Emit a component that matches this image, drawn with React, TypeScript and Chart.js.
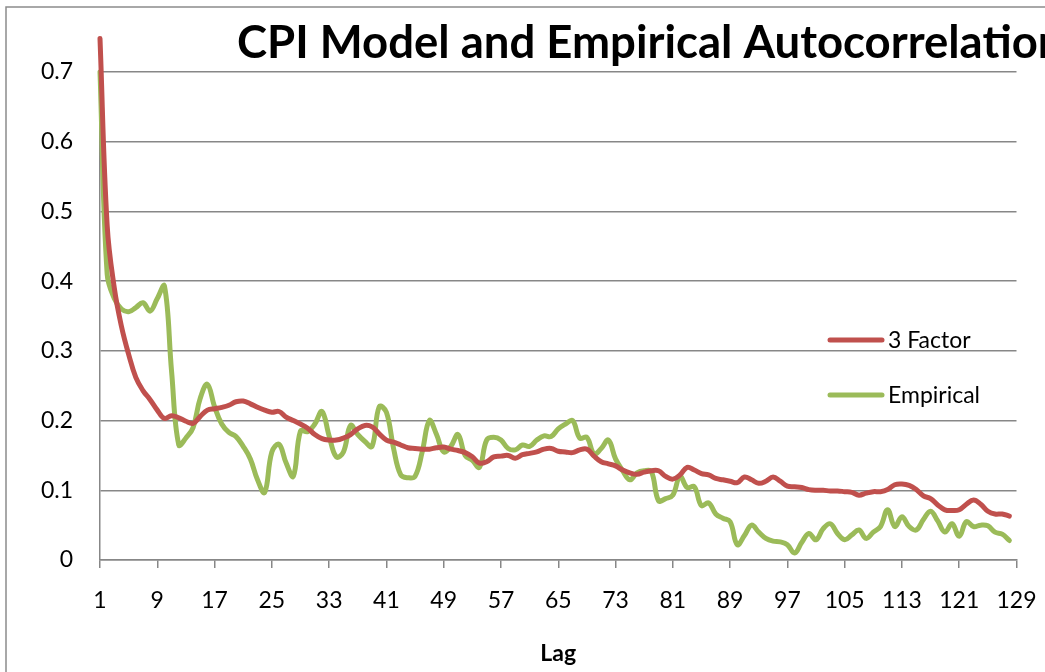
import { useEffect, useRef } from "react";
import { Chart, registerables } from "chart.js";

Chart.register(...registerables);

const TITLE = "CPI Model and Empirical Autocorrelation";
const X_TITLE = "Lag";
const SERIES_NAMES = ["3 Factor", "Empirical"];
const SERIES_COLORS = ["#C0504D", "#9BBB59"];

// lag categories 1..128
const LAGS = Array.from({ length: 128 }, (_, i) => i + 1);
const X_TICKS = [1, 9, 17, 25, 33, 41, 49, 57, 65, 73, 81, 89, 97, 105, 113, 121, 129];
const Y_TICKS = [0, 0.1, 0.2, 0.3, 0.4, 0.5, 0.6, 0.7];

const FACTOR3 = [
  0.748, 0.48, 0.39, 0.335, 0.295, 0.262, 0.243, 0.23, 0.215, 0.203,
  0.207, 0.204, 0.199, 0.196, 0.206, 0.215, 0.217, 0.219, 0.222, 0.227,
  0.228, 0.224, 0.219, 0.215, 0.212, 0.213, 0.205, 0.2, 0.195, 0.189,
  0.18, 0.174, 0.172, 0.172, 0.175, 0.18, 0.188, 0.193, 0.191, 0.181,
  0.172, 0.169, 0.165, 0.161, 0.16, 0.159, 0.159, 0.161, 0.162, 0.159,
  0.157, 0.154, 0.148, 0.139, 0.141, 0.148, 0.149, 0.15, 0.146, 0.151,
  0.153, 0.155, 0.159, 0.16, 0.156, 0.155, 0.154, 0.158, 0.159, 0.149,
  0.141, 0.138, 0.135, 0.129, 0.125, 0.123, 0.126, 0.128, 0.128, 0.12,
  0.116, 0.122, 0.133, 0.129, 0.124, 0.122, 0.117, 0.115, 0.113, 0.111,
  0.119, 0.115, 0.11, 0.113, 0.119, 0.113, 0.106, 0.105, 0.104, 0.101,
  0.1, 0.1, 0.099, 0.099, 0.098, 0.097, 0.093, 0.096, 0.098, 0.098,
  0.101, 0.108, 0.109, 0.107, 0.101, 0.092, 0.088, 0.079, 0.072, 0.071,
  0.072, 0.08, 0.086, 0.08, 0.07, 0.066, 0.066, 0.063,
];

const EMPIRICAL = [
  0.7, 0.41, 0.375, 0.36, 0.356, 0.362, 0.369, 0.357, 0.375, 0.393,
  0.27, 0.165, 0.175, 0.19, 0.232, 0.252, 0.22, 0.195, 0.183, 0.177,
  0.163, 0.145, 0.115, 0.097, 0.155, 0.166, 0.139, 0.12, 0.185, 0.184,
  0.195, 0.213, 0.178, 0.148, 0.155, 0.193, 0.18, 0.17, 0.163, 0.22,
  0.212, 0.16, 0.122, 0.118, 0.12, 0.155, 0.2, 0.18, 0.155, 0.163,
  0.18, 0.15, 0.143, 0.133, 0.172, 0.176, 0.172, 0.16, 0.158, 0.165,
  0.163, 0.172, 0.178, 0.177, 0.188, 0.195, 0.2, 0.175, 0.176, 0.152,
  0.16, 0.172, 0.145, 0.128, 0.115, 0.125, 0.128, 0.127, 0.085, 0.088,
  0.093, 0.12, 0.104, 0.105, 0.078, 0.082, 0.066, 0.06, 0.055, 0.022,
  0.035, 0.05, 0.04, 0.031, 0.027, 0.026, 0.022, 0.01, 0.025, 0.038,
  0.029, 0.045, 0.052, 0.038, 0.029, 0.036, 0.043, 0.031, 0.04, 0.048,
  0.072, 0.048, 0.062, 0.048, 0.043, 0.058, 0.07, 0.056, 0.04, 0.052,
  0.034, 0.055, 0.048, 0.05, 0.049, 0.04, 0.037, 0.028,
];

const SERIES = [FACTOR3, EMPIRICAL];

const GRID = "#878787";
const FONT = "Lato";

const framePlugin = {
  id: "frameAndTitle",
  beforeDraw(chart: any) {
    const ctx = chart.ctx;
    ctx.save();
    ctx.strokeStyle = "#8c8c8c";
    ctx.lineWidth = 1.5;
    ctx.beginPath();
    ctx.moveTo(6, chart.height);
    ctx.lineTo(6, 7);
    ctx.lineTo(chart.width, 7);
    ctx.stroke();
    ctx.restore();
  },
  afterDraw(chart: any) {
    const ctx = chart.ctx;
    ctx.save();
    ctx.fillStyle = "#000";
    ctx.font = `bold 45.5px ${FONT}`;
    ctx.textBaseline = "alphabetic";
    ctx.textAlign = "left";
    ctx.fillText(TITLE, 237, 58);

    // legend
    chart.data.datasets.forEach((ds: any, i: number) => {
      const y = 340 + i * 55;
      ctx.strokeStyle = ds.borderColor;
      ctx.lineWidth = 5;
      ctx.lineCap = "round";
      ctx.beginPath();
      ctx.moveTo(830, y);
      ctx.lineTo(882, y);
      ctx.stroke();
      ctx.fillStyle = "#000";
      ctx.font = `23px ${FONT}`;
      ctx.fillText(ds.label, 888, y + 8);
    });
    ctx.restore();
  },
};

export default function App() {
  const ref = useRef<HTMLCanvasElement>(null);

  useEffect(() => {
    if (!ref.current) return;
    const chart = new Chart(ref.current, {
      type: "line",
      data: {
        datasets: SERIES.map((vals, i) => ({
          label: SERIES_NAMES[i],
          data: vals.map((v, j) => ({ x: LAGS[j], y: v })),
          borderColor: SERIES_COLORS[i],
          backgroundColor: SERIES_COLORS[i],
          borderWidth: 5,
          pointRadius: 0,
          tension: 0.4,
          borderCapStyle: "round",
          borderJoinStyle: "round",
          clip: false,
        })),
      },
      options: {
        animation: false,
        responsive: false,
        events: [],
        layout: { padding: { top: 72, right: 28.5, left: 0, bottom: 0 } },
        plugins: {
          legend: { display: false },
          title: { display: false },
          tooltip: { enabled: false },
        },
        scales: {
          x: {
            type: "linear",
            min: 1,
            max: 129,
            afterBuildTicks: (s: any) => {
              s.ticks = X_TICKS.map((v) => ({ value: v }));
            },
            afterFit: (s: any) => {
              s.height = 112;
              s.paddingLeft = 0;
              s.paddingRight = 0;
            },
            ticks: {
              autoSkip: false,
              maxRotation: 0,
              padding: 19,
              color: "#000",
              font: { family: FONT, size: 23 },
              callback: (v: any) => String(v),
            },
            grid: {
              drawOnChartArea: false,
              drawTicks: true,
              tickLength: 8,
              color: GRID,
              lineWidth: 1.5,
            },
            border: { display: true, color: GRID, width: 1.5 },
            title: {
              display: true,
              text: X_TITLE,
              color: "#000",
              font: { family: FONT, size: 23, weight: "bold" },
              padding: { top: 0, bottom: 5 },
            },
          },
          y: {
            type: "linear",
            min: 0,
            max: 0.7,
            afterBuildTicks: (s: any) => {
              s.ticks = Y_TICKS.map((v) => ({ value: v }));
            },
            afterFit: (s: any) => {
              s.width = 100;
              s.paddingTop = 0;
              s.paddingBottom = 0;
            },
            ticks: {
              padding: 27,
              color: "#000",
              font: { family: FONT, size: 23 },
              callback: (v: any) => String(v),
            },
            grid: {
              drawTicks: false,
              color: GRID,
              lineWidth: 1.5,
            },
            border: { display: true, color: GRID, width: 1.5 },
          },
        },
      },
      plugins: [framePlugin],
    } as any);
    return () => chart.destroy();
  }, []);

  return (
    <div
      style={{
        position: "absolute",
        left: 0,
        top: 0,
        width: 1045,
        height: 672,
        overflow: "hidden",
        background: "#fff",
      }}
    >
      <canvas ref={ref} width={1045} height={672} style={{ display: "block" }} />
    </div>
  );
}
